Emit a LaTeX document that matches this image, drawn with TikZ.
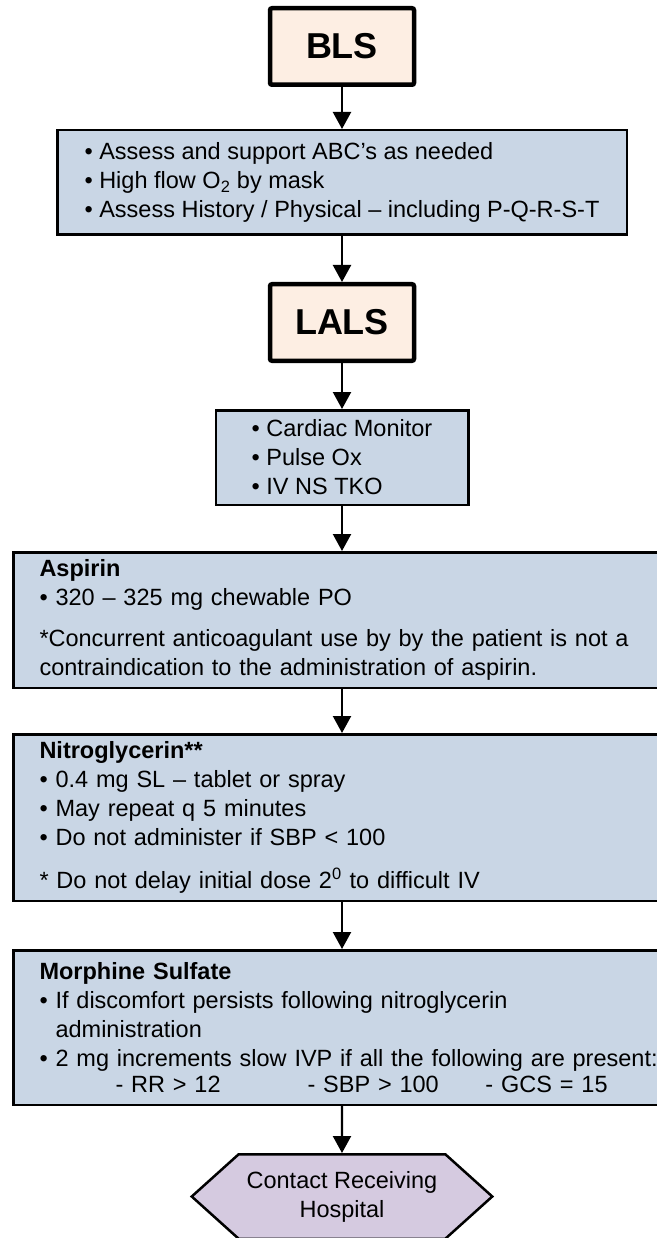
\documentclass[tikz,border=0pt]{standalone}
\usepackage{fontspec}
\setmainfont{Liberation Sans}
\usepackage{tikz}
\usetikzlibrary{arrows.meta,shapes,positioning}
\definecolor{peach}{RGB}{253,238,227}
\definecolor{stepblue}{RGB}{201,214,229}
\definecolor{lilac}{RGB}{213,202,224}
\newcommand{\dotitem}{\textbullet\ }
\newcommand{\dotskip}{\phantom{\textbullet\ }}

\begin{document}
\begin{tikzpicture}[x=1pt, y=1pt, line width=2.2pt, >={Triangle[length=17pt,width=18pt]},
  level/.style={rectangle, draw, line width=4.5pt, fill=peach, rounded corners=2pt,
    minimum width=144pt, minimum height=76.5pt, font=\bfseries\fontsize{36}{40}\selectfont},
  block/.style={rectangle, draw, line width=2.5pt, fill=stepblue, align=left,
    font=\fontsize{23.5}{29}\selectfont},
  drug/.style={block, text width=605pt, inner xsep=26pt},
  goal/.style={signal, signal to=west and east, signal pointer angle=84, draw, line width=2.5pt,
    fill=lilac, align=center, minimum width=300.5pt, minimum height=84.5pt,
    font=\fontsize{23.5}{29}\selectfont}]
  \useasboundingbox (0,0) rectangle (656,-1238);
  \node[level] (bls) at (342,-46.5) {BLS};
  \node[block, below=42pt of bls, minimum width=569.5pt, minimum height=104.5pt] (abc)
    {\dotitem Assess and support ABC's as needed\\ \dotitem High flow O\textsubscript{2} by mask\\
     \dotitem Assess History / Physical -- including P-Q-R-S-T};
  \node[level, below=46pt of abc] (lals) {LALS};
  \node[block, below=46pt of lals, minimum width=252.5pt, minimum height=94.5pt] (mon)
    {\dotitem Cardiac Monitor\\ \dotitem Pulse Ox\\ \dotitem IV NS TKO};
  \node[drug, below=45pt of mon, minimum height=135.5pt] (asa)
    {\textbf{Aspirin}\\ \dotitem 320 -- 325 mg chewable PO\\[12pt]
     \mbox{*Concurrent anticoagulant use by by the patient is not a}\\
     contraindication to the administration of aspirin.};
  \node[drug, below=44pt of asa, minimum height=166.5pt] (ntg)
    {\textbf{Nitroglycerin**}\\ \dotitem 0.4 mg SL -- tablet or spray\\ \dotitem May repeat q 5 minutes\\
     \dotitem Do not administer if SBP < 100\\[14pt]
     * Do not delay initial dose 2\textsuperscript{0} to difficult IV};
  \node[drug, below=47pt of ntg, minimum height=154.5pt] (ms)
    {\textbf{Morphine Sulfate}\\ \dotitem If discomfort persists following nitroglycerin\\
     \dotskip administration\\
     \mbox{\dotitem 2 mg increments slow IVP if all the following are present:}\\[-3pt]
     \hspace*{76pt}\makebox[192pt][l]{- RR > 12}\makebox[178pt][l]{- SBP > 100}- GCS = 15};
  \node[goal, below=47pt of ms] (call) {Contact Receiving\\ Hospital};

  \draw[->] (bls) -- (abc);
  \draw[->] (abc) -- (lals);
  \draw[->] (lals) -- (mon);
  \draw[->] (mon) -- (asa);
  \draw[->] (asa) -- (ntg);
  \draw[->] (ntg) -- (ms);
  \draw[->] (ms) -- (call);
\end{tikzpicture}
\end{document}
